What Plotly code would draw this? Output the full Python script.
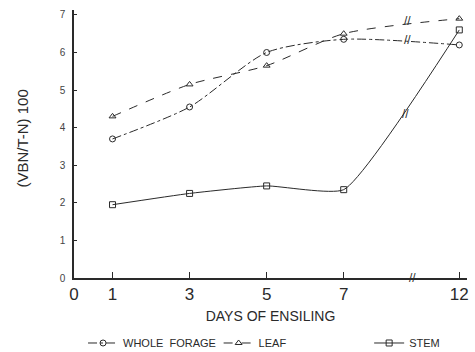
import plotly.graph_objects as go

days = [1, 3, 5, 7, 12]
whole_forage = [3.70, 4.55, 6.00, 6.35, 6.20]
leaf = [4.30, 5.15, 5.65, 6.50, 6.90]
stem = [1.95, 2.25, 2.45, 2.35, 6.60]
x_tick_labels = ["0", "1", "3", "5", "7", "12"]
y_tick_labels = ["0", "1", "2", "3", "4", "5", "6", "7"]

# broken x axis: day 12 is drawn right after a break following day 7
def xpos(d):
    return d if d <= 7 else 10.0

xp = [xpos(d) for d in days]
ink = "#2a2a2a"
font = "Liberation Sans"

fig = go.Figure()
series = [
    ("WHOLE  FORAGE", whole_forage, "circle-open", "dashdot", 0.7, "legend", 0.023),
    ("LEAF", leaf, "triangle-up-open", "dash", 0.7, "legend2", 0.368),
    ("STEM", stem, "square-open", "solid", 0.45, "legend3", 0.751),
]
legends = {}
for name, vals, sym, dash, sm, lg, lx in series:
    fig.add_trace(go.Scatter(
        x=xp, y=vals, name=name, mode="lines+markers", legend=lg,
        line=dict(color=ink, width=1, dash=dash, shape="spline", smoothing=sm),
        marker=dict(symbol=sym, size=6, color=ink, line=dict(width=1, color=ink)),
    ))
    legends[lg] = dict(orientation="h", x=lx, y=-0.2425, xanchor="left", yanchor="middle",
                       font=dict(family=font, size=11, color=ink), itemwidth=30,
                       bgcolor="rgba(0,0,0,0)")

# break marks
for xb, yv in [(8.65, 6.85), (8.65, 6.32), (8.6, 4.35), (8.78, 0.0)]:
    fig.add_annotation(x=xb, y=yv, text="//", showarrow=False,
                       font=dict(family=font, size=12, color=ink))

fig.add_annotation(xref="paper", yref="paper", x=-0.13, y=0.52,
                   text="(VBN/T-N) 100", textangle=-90, showarrow=False,
                   xanchor="center",
                   font=dict(family=font, size=15, color=ink))

fig.update_layout(
    width=475, height=352,
    margin=dict(l=74, r=8, t=10, b=74, autoexpand=False),
    plot_bgcolor="white", paper_bgcolor="white",
    showlegend=True,
    font=dict(family=font, color=ink),
    xaxis=dict(
        range=[0.0, 10.2], tickmode="array",
        tickvals=[0, 1, 3, 5, 7, 10], ticktext=x_tick_labels,
        ticks="inside", ticklen=6, tickcolor=ink, ticklabeloverflow="allow",
        showline=True, linecolor=ink, linewidth=1.5, showgrid=False, zeroline=False,
        tickfont=dict(family=font, size=17, color=ink),
        title=dict(text="DAYS OF ENSILING", font=dict(family=font, size=14, color=ink), standoff=8),
    ),
    yaxis=dict(
        range=[0, 7.13], tickmode="array", tickvals=list(range(8)), ticktext=y_tick_labels,
        ticks="inside", ticklen=3, tickcolor=ink, ticklabelstandoff=5,
        showline=True, linecolor=ink, linewidth=1.5, showgrid=False, zeroline=False,
        tickfont=dict(family=font, size=10, color="#444"),
    ),
    **legends,
)
fig.write_html("out.html", config={"displayModeBar": False},
               post_script="document.body.style.margin='0';")
